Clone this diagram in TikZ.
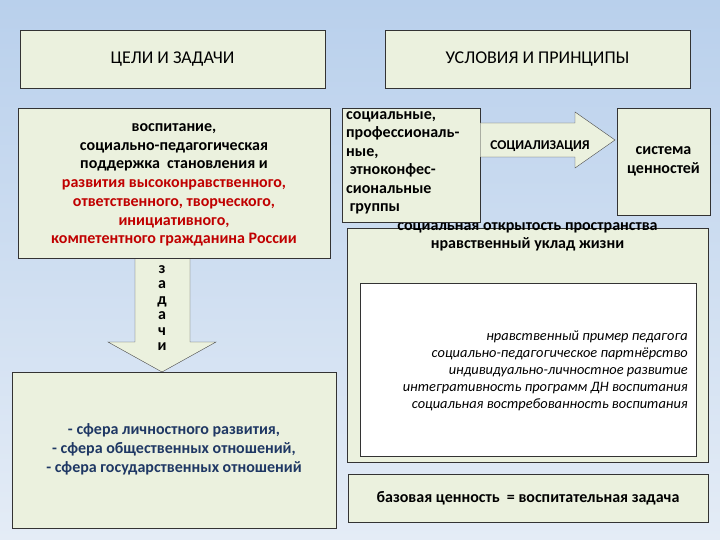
\documentclass[tikz,border=0pt]{standalone}
\usepackage{fontspec}
\setmainfont{Carlito}
\usetikzlibrary{shapes.arrows,positioning}
\definecolor{boxfill}{HTML}{EBF1DE}
\definecolor{bgtop}{HTML}{B9D0EC}
\definecolor{bgbot}{HTML}{E4ECF6}
\definecolor{darkred}{HTML}{C00000}
\definecolor{navy}{HTML}{1F3864}
\tikzset{
  box/.style={draw=black!80, fill=boxfill, line width=0.6pt, inner sep=0pt},
  lbl/.style={align=center, font=\fontsize{16}{19}\selectfont\bfseries},
}
\begin{document}
\begin{tikzpicture}[x=1pt,y=-1pt]
\shade[top color=bgtop, bottom color=bgbot] (0,0) rectangle (720,540);
\useasboundingbox (0,0) rectangle (720,540);
% top headers
\node[box, minimum width=305, minimum height=58] (goals) at (172.5,59) {};
\node[font=\fontsize{18}{20}\selectfont] at (goals) {ЦЕЛИ И ЗАДАЧИ};
\node[box, minimum width=305, minimum height=58] (conds) at (537.5,59) {};
\node[font=\fontsize{18}{20}\selectfont] at (conds) {УСЛОВИЯ И ПРИНЦИПЫ};
% down arrow
\draw[fill=boxfill, draw=black!70] (135,258) -- (135,342) -- (108,342) -- (162,372) -- (216,342) -- (190,342) -- (190,258);
\node[lbl, font=\fontsize{16}{15.4}\selectfont\bfseries] (zad) at (162,308) {з\\а\\д\\а\\ч\\и};
% main left box
\node[box, minimum width=312, minimum height=150] (main) at (174,183) {};
\node[lbl, font=\fontsize{16}{18.7}\selectfont\bfseries] at (174,185) {воспитание,\\социально-педагогическая\\поддержка\ \ становления и\\\textcolor{darkred}{развития высоконравственного,}\\\textcolor{darkred}{ответственного, творческого,}\\\textcolor{darkred}{инициативного,}\\\textcolor{darkred}{компетентного гражданина России}};
% bottom-left box
\node[box, minimum width=324, minimum height=156] (spheres) at (174,450) {};
\node[lbl, text=navy] at (174,449) {- сфера личностного развития,\\- сфера общественных отношений,\\- сфера государственных отношений};
% big right box
\node[box, minimum width=361, minimum height=234] (cond) at (527.5,345) {};
\node[draw=black!80, fill=white, minimum width=336, minimum height=173, inner sep=0pt] (white) at (528,369.5) {};
\node[align=right, anchor=east, font=\fontsize{14.4}{17}\selectfont\itshape, inner sep=0pt] (list) at (688,371) {нравственный пример педагога\\социально-педагогическое партнёрство\\индивидуально-личностное развитие\\интегративность программ ДН воспитания\\социальная востребованность воспитания};
\node[lbl, font=\fontsize{16}{18}\selectfont\bfseries] at (527.5,237) {социальная открытость пространства\\нравственный уклад жизни};
% groups box
\node[box, minimum width=138, minimum height=114] (groups) at (411,165) {};
\node[align=left, anchor=north west, font=\fontsize{16}{18.5}\selectfont\bfseries, inner sep=0pt] at (346,111) {социальные,\\профессиональ-\\ные,\\ \ этноконфес-\\сиональные\\ \ группы};
% system box
\node[box, minimum width=93, minimum height=107] (sys) at (663.5,161.5) {};
\node[lbl] at (sys) {система\\ценностей};
% right arrow
\draw[fill=boxfill, draw=black!70] (groups.east |- 0,123) -- (575,123) -- (575,112) -- (615,140) -- (575,168) -- (575,157) -- (groups.east |- 0,157);
\node[font=\fontsize{13.5}{15}\selectfont\bfseries] (soc) at (540,146) {СОЦИАЛИЗАЦИЯ};
% bottom right box
\node[box, minimum width=360, minimum height=48] (base) at (528,498) {};
\node[font=\fontsize{16}{18}\selectfont\bfseries] at (base) {базовая ценность\ \ = воспитательная задача};
\end{tikzpicture}
\end{document}
